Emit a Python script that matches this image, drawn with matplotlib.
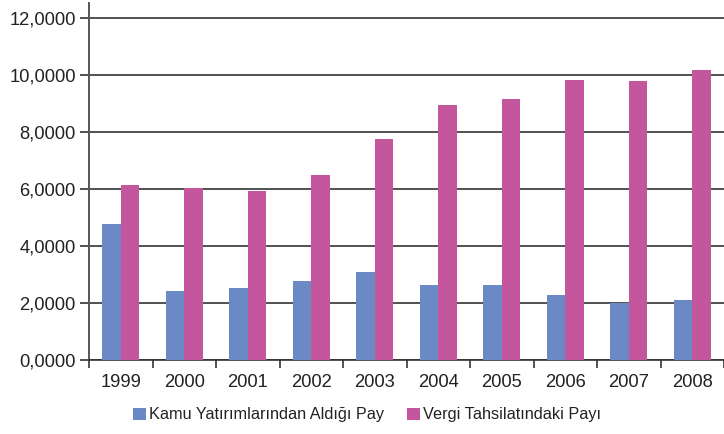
import matplotlib
matplotlib.use("Agg")
import matplotlib.pyplot as plt
import numpy as np
from matplotlib.ticker import FixedLocator, FuncFormatter

years = ["1999", "2000", "2001", "2002", "2003", "2004", "2005", "2006", "2007", "2008"]
kamu = [4.77, 2.42, 2.52, 2.77, 3.09, 2.63, 2.63, 2.28, 2.00, 2.10]
vergi = [6.14, 6.04, 5.94, 6.49, 7.75, 8.95, 9.16, 9.82, 9.79, 10.18]
series_names = ["Kamu Yatırımlarından Aldığı Pay", "Vergi Tahsilatındaki Payı"]
yticks = [0, 2, 4, 6, 8, 10, 12]

plt.rcParams['font.family'] = ['Liberation Sans', 'DejaVu Sans']

fig = plt.figure(figsize=(7.24, 4.34), dpi=100)
ax = fig.add_axes([89/724, 1 - 360/434, 1 - 89/724, (360 - 3)/434])

x = np.arange(len(years))
w = 0.29
c_blue = "#6B89C5"
c_mag = "#C4569E"
ax.bar(x - w/2, kamu, width=w, color=c_blue, label=series_names[0], zorder=3)
ax.bar(x + w/2, vergi, width=w, color=c_mag, label=series_names[1], zorder=3)

ax.set_xlim(-0.5, len(years) - 0.5)
ax.set_ylim(0, 12.53)

gc = "#333333"
for v in yticks:
    ax.axhline(v, color=gc, lw=1.2, zorder=2)

ax.spines['top'].set_visible(False)
ax.spines['right'].set_visible(False)
ax.spines['left'].set_color("#555555")
ax.spines['left'].set_linewidth(1.4)
ax.spines['bottom'].set_color(gc)
ax.spines['bottom'].set_linewidth(1.2)

ax.set_yticks(yticks)
ax.yaxis.set_major_formatter(FuncFormatter(lambda v, p: f"{v:.4f}".replace(".", ",")))
ax.tick_params(axis='y', length=6.5, width=1.2, color=gc, labelsize=13.2, labelcolor="#222222", pad=3)

ax.set_xticks(x)
ax.set_xticklabels(years)
ax.tick_params(axis='x', which='major', length=0, labelsize=13.2, labelcolor="#222222", pad=10)
ax.xaxis.set_minor_locator(FixedLocator(np.arange(-0.5, len(years), 1.0)))
ax.tick_params(axis='x', which='minor', length=6, width=1.2, color=gc)

leg = fig.legend(loc='center', bbox_to_anchor=(0.507, 1 - 415/434), ncol=2, frameon=False,
                 fontsize=11.7, handlelength=0.8, handleheight=0.8, handletextpad=0.2,
                 columnspacing=1.4)
for t in leg.get_texts():
    t.set_color("#222222")

fig.savefig("out.png", dpi=100)
